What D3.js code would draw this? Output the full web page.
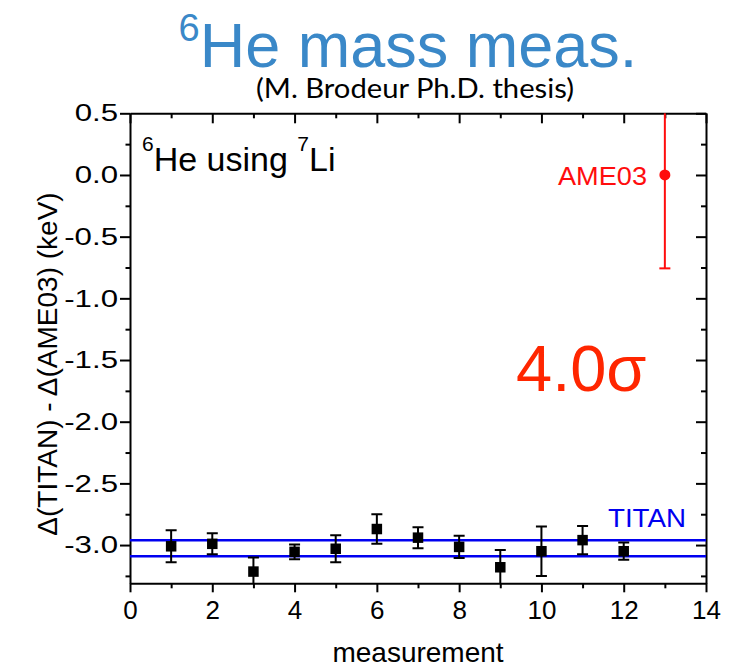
<!DOCTYPE html>
<html>
<head>
<meta charset="utf-8">
<script src="https://cdn.jsdelivr.net/npm/d3@7"></script>
<style>
  html, body { margin: 0; padding: 0; background: #fff; }
  svg { display: block; }
  text { font-family: "Liberation Sans", Arial, sans-serif; }
</style>
</head>
<body>
<svg id="chart" width="741" height="668"></svg>
<script>
// TITAN 6He measurements (referenced to 7Li), in keV relative to AME03
const measurement = [1, 2, 3, 4, 5, 6, 7, 8, 9, 10, 11, 12];
const delta = [-3.01, -2.99, -3.215, -3.055, -3.03, -2.87, -2.94, -3.015, -3.18, -3.05, -2.96, -3.05];
const deltaErr = [0.13, 0.085, 0.115, 0.06, 0.11, 0.12, 0.085, 0.09, 0.14, 0.2, 0.115, 0.07];

// TITAN weighted average band (lower, upper)
const titanBand = [-3.09, -2.962];

// AME03 reference value
const ameX = [13];
const ameValue = [0.0];
const ameErr = [0.757];

// Axis ticks
const xMajorTicks = [0, 2, 4, 6, 8, 10, 12, 14];
const xMinorTicks = [1, 3, 5, 7, 9, 11, 13];
const yMajorTicks = [0.5, 0.0, -0.5, -1.0, -1.5, -2.0, -2.5, -3.0];
const yMinorTicks = [0.25, -0.25, -0.75, -1.25, -1.75, -2.25, -2.75, -3.25];

const svg = d3.select("#chart");
const plotLeft = 130, plotRight = 706, plotTop = 113.3, plotBottom = 583.3;

const x = d3.scaleLinear().domain([0, 14]).range([plotLeft, plotRight]);
const y = d3.scaleLinear().domain([-3.31, 0.5]).range([plotBottom, plotTop]);

svg.append("defs").append("clipPath").attr("id", "plotClip")
  .append("rect").attr("x", plotLeft).attr("y", plotTop)
  .attr("width", plotRight - plotLeft).attr("height", plotBottom - plotTop);

// Title
const title = svg.append("text")
  .attr("x", 408).attr("y", 67)
  .attr("text-anchor", "middle")
  .attr("fill", "#3a88c8");
title.append("tspan").attr("font-size", 38).attr("dy", -26).text("6");
title.append("tspan").attr("font-size", 63).attr("dy", 26).text("He mass meas.");

svg.append("text")
  .attr("x", 415).attr("y", 98)
  .attr("text-anchor", "middle")
  .attr("font-size", 27)
  .attr("textLength", 318).attr("lengthAdjust", "spacingAndGlyphs")
  .style("font-family", "Lato, 'Open Sans', sans-serif")
  .attr("fill", "#000")
  .text("(M. Brodeur Ph.D. thesis)");

// Axes
function styleAxis(g) {
  g.selectAll("path.domain").attr("stroke", "#000").attr("stroke-width", 2);
  g.selectAll(".tick line").attr("stroke", "#000").attr("stroke-width", 2);
  g.selectAll(".tick text").attr("fill", "#000");
}

const fmtY = d => d3.format(".1f")(d).replace("\u2212", "-");

const gBottom = svg.append("g").attr("transform", `translate(0,${plotBottom})`)
  .call(d3.axisBottom(x).tickValues(xMajorTicks).tickSize(9).tickSizeOuter(0)
    .tickPadding(8).tickFormat(d3.format("d")));
gBottom.selectAll(".tick text").attr("font-size", 26);
styleAxis(gBottom);

const gBottomMinor = svg.append("g").attr("transform", `translate(0,${plotBottom})`)
  .call(d3.axisBottom(x).tickValues(xMinorTicks).tickSize(5).tickFormat(""));
gBottomMinor.select("path.domain").remove();
styleAxis(gBottomMinor);

const gTop = svg.append("g").attr("transform", `translate(0,${plotTop})`)
  .call(d3.axisTop(x).tickValues(xMajorTicks).tickSize(-10).tickSizeOuter(0).tickFormat(""));
styleAxis(gTop);
const gTopMinor = svg.append("g").attr("transform", `translate(0,${plotTop})`)
  .call(d3.axisTop(x).tickValues(xMinorTicks).tickSize(-5).tickFormat(""));
gTopMinor.select("path.domain").remove();
styleAxis(gTopMinor);

const gLeft = svg.append("g").attr("transform", `translate(${plotLeft},0)`)
  .call(d3.axisLeft(y).tickValues(yMajorTicks).tickSize(10).tickSizeOuter(0)
    .tickPadding(2).tickFormat(fmtY));
gLeft.selectAll(".tick text").attr("font-size", 24)
  .each(function () {
    const w = this.getComputedTextLength();
    d3.select(this).attr("textLength", w * 1.3).attr("lengthAdjust", "spacingAndGlyphs");
  });
styleAxis(gLeft);
const gLeftMinor = svg.append("g").attr("transform", `translate(${plotLeft},0)`)
  .call(d3.axisLeft(y).tickValues(yMinorTicks).tickSize(4.5).tickFormat(""));
gLeftMinor.select("path.domain").remove();
styleAxis(gLeftMinor);

const gRight = svg.append("g").attr("transform", `translate(${plotRight},0)`)
  .call(d3.axisRight(y).tickValues(yMajorTicks).tickSize(-10).tickSizeOuter(0).tickFormat(""));
styleAxis(gRight);
const gRightMinor = svg.append("g").attr("transform", `translate(${plotRight},0)`)
  .call(d3.axisRight(y).tickValues(yMinorTicks).tickSize(-5).tickFormat(""));
gRightMinor.select("path.domain").remove();
styleAxis(gRightMinor);

// Axis titles
svg.append("text")
  .attr("transform", `translate(57,364) rotate(-90)`)
  .attr("text-anchor", "middle")
  .attr("font-size", 28)
  .attr("fill", "#000")
  .text("\u0394(TITAN) - \u0394(AME03) (keV)");

svg.append("text")
  .attr("x", 418).attr("y", 661.5)
  .attr("text-anchor", "middle")
  .attr("font-size", 28)
  .attr("fill", "#000")
  .text("measurement");

// Plot contents
const plot = svg.append("g").attr("clip-path", "url(#plotClip)");

// TITAN average band lines
plot.selectAll("line.titan").data(titanBand).join("line")
  .attr("class", "titan")
  .attr("x1", x(0)).attr("x2", x(14))
  .attr("y1", d => y(d)).attr("y2", d => y(d))
  .attr("stroke", "#0000f0").attr("stroke-width", 2.5);

// Measurement error bars
const pts = measurement.map((m, i) => ({ m, v: delta[i], e: deltaErr[i] }));
const capW = 5.5;
const eb = plot.selectAll("g.eb").data(pts).join("g").attr("class", "eb")
  .attr("stroke", "#000").attr("stroke-width", 2);
eb.append("line")
  .attr("x1", d => x(d.m)).attr("x2", d => x(d.m))
  .attr("y1", d => y(d.v + d.e)).attr("y2", d => y(d.v - d.e));
eb.append("line")
  .attr("x1", d => x(d.m) - capW).attr("x2", d => x(d.m) + capW)
  .attr("y1", d => y(d.v + d.e)).attr("y2", d => y(d.v + d.e));
eb.append("line")
  .attr("x1", d => x(d.m) - capW).attr("x2", d => x(d.m) + capW)
  .attr("y1", d => y(d.v - d.e)).attr("y2", d => y(d.v - d.e));

const sq = 10.5;
plot.selectAll("rect.pt").data(pts).join("rect")
  .attr("class", "pt")
  .attr("x", d => x(d.m) - sq / 2).attr("y", d => y(d.v) - sq / 2)
  .attr("width", sq).attr("height", sq)
  .attr("fill", "#000");

// AME03 value with error bar
const ame = ameX.map((m, i) => ({ m, v: ameValue[i], e: ameErr[i] }));
const amePlot = svg.append("g");
amePlot.selectAll("line.ameBar").data(ame).join("line")
  .attr("class", "ameBar")
  .attr("x1", d => x(d.m)).attr("x2", d => x(d.m))
  .attr("y1", d => Math.max(plotTop, y(d.v + d.e))).attr("y2", d => y(d.v - d.e))
  .attr("stroke", "#ff0d0d").attr("stroke-width", 2);
amePlot.selectAll("line.ameCap").data(ame).join("line")
  .attr("class", "ameCap")
  .attr("x1", d => x(d.m) - capW).attr("x2", d => x(d.m) + capW)
  .attr("y1", d => y(d.v - d.e)).attr("y2", d => y(d.v - d.e))
  .attr("stroke", "#ff0d0d").attr("stroke-width", 2);
amePlot.selectAll("circle").data(ame).join("circle")
  .attr("cx", d => x(d.m)).attr("cy", d => y(d.v)).attr("r", 5.5)
  .attr("fill", "#ff0d0d");

// Annotations
svg.append("text")
  .attr("x", 647).attr("y", 185)
  .attr("text-anchor", "end")
  .attr("font-size", 26)
  .attr("textLength", 89).attr("lengthAdjust", "spacingAndGlyphs")
  .attr("fill", "#ff0d0d")
  .text("AME03");

svg.append("text")
  .attr("x", 608).attr("y", 527.3)
  .attr("font-size", 25)
  .attr("textLength", 78).attr("lengthAdjust", "spacingAndGlyphs")
  .attr("fill", "#0000f0")
  .text("TITAN");

svg.append("text")
  .attr("x", 516).attr("y", 390.5)
  .attr("font-size", 65)
  .attr("fill", "#ff2600")
  .text("4.0\u03c3");

const lab = svg.append("text")
  .attr("x", 142).attr("y", 170.7)
  .attr("fill", "#000");
lab.append("tspan").attr("font-size", 21).attr("dy", -20).text("6");
lab.append("tspan").attr("font-size", 34).attr("dy", 20).text("He using ");
lab.append("tspan").attr("font-size", 21).attr("dy", -20).text("7");
lab.append("tspan").attr("font-size", 34).attr("dy", 20).text("Li");
</script>
</body>
</html>
